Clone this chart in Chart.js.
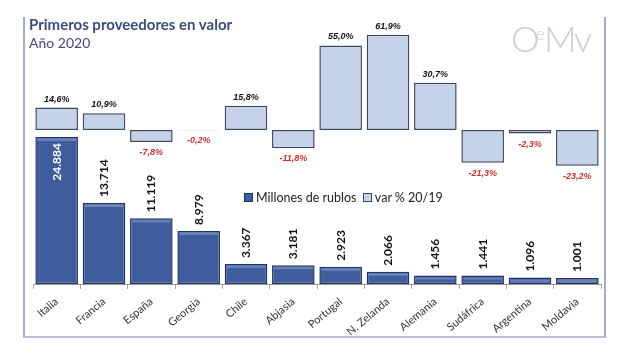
<!DOCTYPE html>
<html>
<head>
<meta charset="utf-8">
<script src="https://cdn.jsdelivr.net/npm/chart.js@4/dist/chart.umd.min.js"></script>
<style>
  body { margin: 0; background: #fff; }
  #wrap { position: relative; width: 640px; height: 360px; font-family: Lato, sans-serif; }
  #frame { position: absolute; left: 23px; top: 17px; width: 579px; height: 319px;
           border-left: 2px solid #a3abc9; border-right: 2px solid #a3abc9; border-bottom: 2px solid #b8bfd6; }
  #title { position: absolute; left: 29px; top: 15px; color: #3e4c78; }
  #title .t1 { font-weight: bold; font-size: 15px; }
  #title .t2 { font-size: 14px; margin-top: 1px; }
  #logo { position: absolute; left: 511px; top: 16px; color: #cbcbd9; font-size: 36px; font-weight: 300; letter-spacing: -2px; }
  #logo sup { font-size: 18px; vertical-align: 12px; margin-left: -2px; margin-right: 1px; }
  #legend { position: absolute; left: 244px; top: 190px; font-size: 12.5px; color: #222; }
  #legend span.box { display: inline-block; width: 7px; height: 7px; border: 1px solid #333; margin-right: 3px; vertical-align: 0px; }
  canvas { position: absolute; left: 0; top: 0; }
</style>
</head>
<body>
<div id="wrap">
  <canvas id="chart" width="640" height="360"></canvas>
  <div id="frame"></div>
  <div id="title"><div class="t1">Primeros proveedores en valor</div><div class="t2">Año 2020</div></div>
  <div id="logo">O<sup>e</sup>Mv</div>
  <div id="legend"></div>
</div>
<script>
const paises = ['Italia', 'Francia', 'España', 'Georgia', 'Chile', 'Abjasia', 'Portugal',
  'N. Zelanda', 'Alemania', 'Sudáfrica', 'Argentina', 'Moldavia'];
const millones = [24884, 13714, 11119, 8979, 3367, 3181, 2923, 2066, 1456, 1441, 1096, 1001];
const variacion = [14.6, 10.9, -7.8, -0.2, 15.8, -11.8, 55.0, 61.9, 30.7, -21.3, -2.3, -23.2];

const azul = '#3f5c9c';
const celeste = '#c5d3ea';

// legend as html, it sits in the middle of the chart
document.getElementById('legend').innerHTML =
  '<span class="box" style="background:' + azul + ';border-color:#22335f"></span>Millones de rublos&nbsp;&nbsp;' +
  '<span class="box" style="background:' + celeste + ';border-color:#404860"></span>var % 20/19';

function fmtMillones(v) {
  return v.toLocaleString('de-DE');
}
function fmtVar(v) {
  return v.toFixed(1).replace('.', ',') + '%';
}

// value labels + lighter top band on the blue bars
const etiquetas = {
  id: 'etiquetas',
  afterDatasetsDraw(chart) {
    const ctx = chart.ctx;
    const barras = chart.getDatasetMeta(0).data;
    const barrasVar = chart.getDatasetMeta(1).data;

    ctx.save();
    barras.forEach((b, i) => {
      const w = b.width;
      ctx.fillStyle = 'rgba(120,150,210,0.7)';
      ctx.fillRect(b.x - w / 2 + 2, b.y + 2, w - 4, 2);

      ctx.save();
      ctx.translate(b.x, b.y);
      ctx.rotate(-Math.PI / 2);
      ctx.font = 'bold 12px Lato, sans-serif';
      ctx.textBaseline = 'middle';
      if (i === 0) {
        ctx.fillStyle = '#fff';
        ctx.textAlign = 'right';
        ctx.fillText(fmtMillones(millones[i]), -6, 0);
      } else {
        ctx.fillStyle = '#111';
        ctx.textAlign = 'left';
        ctx.fillText(fmtMillones(millones[i]), 6, 0);
      }
      ctx.restore();
    });

    ctx.font = 'italic bold 9px "Liberation Sans", sans-serif';
    ctx.textAlign = 'center';
    barrasVar.forEach((b, i) => {
      const v = variacion[i];
      if (v >= 0) {
        ctx.fillStyle = '#111';
        ctx.textBaseline = 'bottom';
        ctx.fillText(fmtVar(v), b.x, b.y - 4);
      } else {
        ctx.fillStyle = '#c8302c';
        ctx.textBaseline = 'top';
        ctx.fillText(fmtVar(v), b.x, b.y + 6);
      }
    });
    ctx.restore();
  }
};

const ctx = document.getElementById('chart').getContext('2d');

const chart = new Chart(ctx, {
  type: 'bar',
  data: {
    labels: paises,
    datasets: [{
      label: 'Millones de rublos',
      data: millones,
      yAxisID: 'y',
      backgroundColor: azul,
      borderColor: '#22335f',
      borderWidth: 1.5,
      borderSkipped: false
    }, {
      label: 'var % 20/19',
      data: variacion,
      yAxisID: 'y2',
      backgroundColor: celeste,
      borderColor: '#404860',
      borderWidth: 1.5,
      borderSkipped: false
    }]
  },
  options: {
    responsive: false,
    animation: false,
    layout: { padding: { left: 33, right: 39, top: 30, bottom: 0 } },
    datasets: { bar: { grouped: false, categoryPercentage: 1, barPercentage: 0.9 } },
    plugins: { legend: { display: false }, tooltip: { enabled: false } },
    scales: {
      x: {
        afterFit: (scale) => { scale.height = 76; },
        grid: { offset: true, drawOnChartArea: false, tickLength: 5, color: '#aaa' },
        border: { display: true, color: '#999' },
        ticks: {
          minRotation: 40, maxRotation: 40, padding: 6, color: '#333',
          font: { family: 'Lato', size: 11 }
        }
      },
      y: { display: false, min: 0, max: 43000 },
      y2: { display: false, min: -100, max: 65 }
    }
  },
  plugins: [etiquetas]
});
</script>
</body>
</html>
